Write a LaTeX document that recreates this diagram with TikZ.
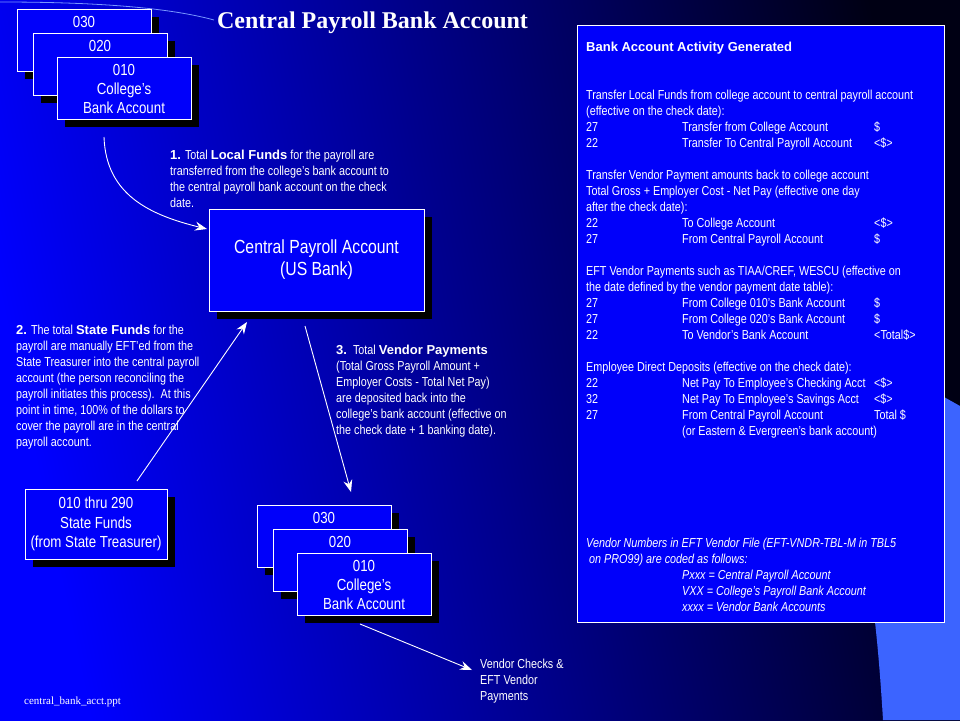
\documentclass[tikz,border=0pt]{standalone}
\usepackage{fontspec}
\setmainfont{Liberation Sans}[FakeStretch=0.83]
\newfontfamily\bsans{Liberation Sans}
\newfontfamily\serifnt{Liberation Serif}
\usetikzlibrary{arrows.meta,shadows}
\definecolor{boxblue}{RGB}{0,0,250}
\definecolor{bgbright}{RGB}{0,0,255}
\definecolor{bgdark}{RGB}{0,0,20}
\definecolor{lightblu}{RGB}{60,100,255}
\definecolor{arcblu}{RGB}{120,150,255}
\newcommand\rw[3]{\makebox[96pt][l]{#1}\makebox[192pt][l]{#2}#3}
\newcommand\bb[1]{{\bsans\bfseries #1}}
\tikzset{
  shadowed/.style={drop shadow={shadow xshift=8pt, shadow yshift=-8pt, opacity=1, fill=black}},
  acct/.style={draw=white, line width=1pt, fill=boxblue, inner sep=0pt, text=white,
    minimum width=134pt, minimum height=62pt, align=center,
    font=\fontsize{16}{19}\selectfont, shadowed},
  bigbox/.style={draw=white, line width=1pt, fill=boxblue, inner sep=0pt, text=white, align=center, shadowed},
  boxtxt/.style={text=white, inner sep=0pt, font=\fontsize{16}{19}\selectfont},
  txt/.style={text=white, inner sep=0pt, anchor=base west},
  arr/.style={draw=white, line width=0.9pt, -{Stealth[length=12pt,width=9pt,inset=4pt]}}
}
\begin{document}
\begin{tikzpicture}[x=1pt,y=-1pt]
\useasboundingbox (0,0) rectangle (960,720);
% background
\shade[left color=bgbright, right color=bgdark, shading angle=102] (0,0) rectangle (960,720);
\fill[lightblu] (870,420) -- (944,397) -- (960,406) -- (960,720) -- (883,720)
  .. controls (880,670) and (877,640) .. (875,622) -- cycle;
\draw[arcblu, line width=0.8pt] (0,2) .. controls (100,2) and (170,8) .. (214,20);

% title
\node[font=\serifnt\bfseries\fontsize{24}{28}\selectfont, text=white, anchor=base, inner sep=0pt] (title) at (372.5,28) {Central Payroll Bank Account};

% top stack
\node[acct] (b030t) at (84,40) {};
\node[boxtxt] (l030t) at (84,22) {030};
\node[acct] (b020t) at (100,64) {};
\node[boxtxt] (l020t) at (100,46) {020};
\node[acct] (b010t) at (124,88) {};
\node[boxtxt, align=center] (l010t) at (124,89) {010\\College’s\\Bank Account};

% central box
\node[bigbox, minimum width=215pt, minimum height=102pt, font=\fontsize{19}{22}\selectfont] (central) at (316.5,260) {Central Payroll Account\\(US Bank)};

% state funds box
\node[bigbox, minimum width=142pt, minimum height=70pt, font=\fontsize{16}{19.5}\selectfont] (state) at (96,524) {010 thru 290\\State Funds\\(from State Treasurer)};

% bottom stack
\node[acct] (b030b) at (324,536) {};
\node[boxtxt] (l030b) at (324,518) {030};
\node[acct] (b020b) at (340,560) {};
\node[boxtxt] (l020b) at (340,542) {020};
\node[acct] (b010b) at (364,584) {};
\node[boxtxt, align=center] (l010b) at (364,585) {010\\College’s\\Bank Account};

% right box
\node[draw=white, line width=1pt, fill=boxblue, minimum width=367pt, minimum height=597pt, inner sep=0pt] (rbox) at (760.5,323.5) {};
\node[txt] (rbtext) at (586,51) {\parbox[t]{355pt}{\fontsize{13}{16}\selectfont\raggedright
\bb{Bank Account Activity Generated}\\
\mbox{}\\
\mbox{}\\
Transfer Local Funds from college account to central payroll account\\
(effective on the check date):\\
\rw{27}{Transfer from College Account}{\$}\\
\rw{22}{Transfer To Central Payroll Account}{<\$>}\\
\mbox{}\\
Transfer Vendor Payment amounts back to college account\\
Total Gross + Employer Cost - Net Pay (effective one day\\
after the check date):\\
\rw{22}{To College Account}{<\$>}\\
\rw{27}{From Central Payroll Account}{\$}\\
\mbox{}\\
EFT Vendor Payments such as TIAA/CREF, WESCU (effective on\\
the date defined by the vendor payment date table):\\
\rw{27}{From College 010’s Bank Account}{\$}\\
\rw{27}{From College 020’s Bank Account}{\$}\\
\rw{22}{To Vendor’s Bank Account}{<Total\$>}\\
\mbox{}\\
Employee Direct Deposits (effective on the check date):\\
\rw{22}{Net Pay To Employee’s Checking Acct}{<\$>}\\
\rw{32}{Net Pay To Employee’s Savings Acct}{<\$>}\\
\rw{27}{From Central Payroll Account}{Total \$}\\
\rw{}{(or Eastern \& Evergreen’s bank account)}{}\\
\mbox{}\\
\mbox{}\\
\mbox{}\\
\mbox{}\\
\mbox{}\\
\mbox{}\\
\textit{Vendor Numbers in EFT Vendor File (EFT-VNDR-TBL-M in TBL5}\\
\hspace*{3pt}\textit{on PRO99) are coded as follows:}\\
\hspace*{96pt}\textit{Pxxx = Central Payroll Account}\\
\hspace*{96pt}\textit{VXX = College’s Payroll Bank Account}\\
\hspace*{96pt}\textit{xxxx = Vendor Bank Accounts}}};

% annotation texts
\node[txt] (t1) at (170,159) {\parbox[t]{260pt}{\fontsize{13}{16}\selectfont\raggedright
\bb{1.} Total \bb{Local Funds} for the payroll are\\
transferred from the college’s  bank account to\\
the central payroll bank account on the check\\
date.}};
\node[txt] (t2) at (16,334) {\parbox[t]{230pt}{\fontsize{13}{16}\selectfont\raggedright
\bb{2.} The total \bb{State Funds} for the\\
payroll are manually EFT’ed from the\\
State Treasurer into the central payroll\\
account (the person reconciling  the\\
payroll initiates this process).\ \ At this\\
point in time, 100\% of the dollars to\\
cover the payroll are in the central\\
payroll account.}};
\node[txt] (t3) at (336,354) {\parbox[t]{230pt}{\fontsize{13}{16}\selectfont\raggedright
\bb{3.}\ \ Total \bb{Vendor Payments}\\
(Total Gross Payroll Amount +\\
Employer Costs - Total Net Pay)\\
are deposited back into the\\
college’s bank account (effective on\\
the check date + 1 banking date).}};
\node[txt] (vend) at (480,668) {\parbox[t]{120pt}{\fontsize{13}{16}\selectfont\raggedright
Vendor Checks \&\\
EFT Vendor\\
Payments}};
\node[txt, font=\serifnt\fontsize{11}{13}\selectfont] (foot) at (24,704) {central\_bank\_acct.ppt};

% connectors
\coordinate (a1s) at (104,137);
\coordinate (a1e) at (207,229);
\coordinate (a2s) at (137,481);
\coordinate (a2e) at (247,322);
\coordinate (a3s) at (305,326);
\coordinate (a3e) at (351,492);
\coordinate (a4s) at (360,624);
\coordinate (a4e) at (472,670);
\draw[arr] (a1s) .. controls (106,195) and (150,215) .. (a1e);
\draw[arr] (a2s) -- (a2e);
\draw[arr] (a3s) -- (a3e);
\draw[arr] (a4s) -- (a4e);
\end{tikzpicture}
\end{document}
